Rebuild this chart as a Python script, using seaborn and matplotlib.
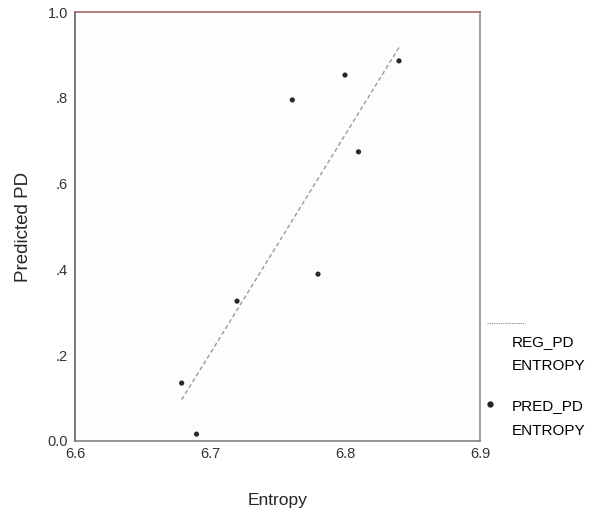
import numpy as np
import pandas as pd
import matplotlib
matplotlib.use("Agg")
import matplotlib.pyplot as plt
from matplotlib.lines import Line2D
import seaborn as sns

# values
entropy = [6.679, 6.690, 6.720, 6.761, 6.780, 6.800, 6.810, 6.840]
pred_pd = [0.135, 0.016, 0.326, 0.795, 0.389, 0.853, 0.674, 0.886]
x_ticks = [6.6, 6.7, 6.8, 6.9]
x_labels = ["6.6", "6.7", "6.8", "6.9"]
y_ticks = [0.0, 0.2, 0.4, 0.6, 0.8, 1.0]
y_labels = ["0.0", ".2", ".4", ".6", ".8", "1.0"]

df = pd.DataFrame({"entropy": entropy, "pred_pd": pred_pd})

sns.set_style("white")
plt.rcParams["font.family"] = ["Liberation Sans", "DejaVu Sans"]

fig = plt.figure(figsize=(5.92, 5.15), dpi=100)
ax = fig.add_axes([75 / 592, 74 / 515, 405 / 592, 429 / 515])
ax.set_facecolor("#fdfdfd")

# regression line (fit from the points)
sns.regplot(x="entropy", y="pred_pd", data=df, scatter=False, ci=None,
            truncate=True, ax=ax,
            line_kws=dict(color="#9a9a9a", lw=1.0, ls=(0, (3, 2))))
sns.scatterplot(x="entropy", y="pred_pd", data=df, ax=ax, s=14,
                color="#2a2a2a", edgecolor="none", zorder=3)

ax.set_xlim(6.6, 6.9)
ax.set_ylim(0, 1.0)
ax.set_xticks(x_ticks)
ax.set_xticklabels(x_labels)
ax.set_yticks(y_ticks)
ax.set_yticklabels(y_labels)
ax.tick_params(axis="both", labelsize=10.5, labelcolor="#333333",
               length=3, width=0.8, color="#666666", direction="out")
ax.tick_params(axis="x", pad=1)
ax.tick_params(axis="y", pad=2)

ax.set_xlabel("Entropy", fontsize=12.5)
ax.set_ylabel("Predicted PD", fontsize=13.5)
ax.xaxis.set_label_coords(0.5, -0.121)
ax.yaxis.set_label_coords(-0.105, 0.5)

for side, col in [("left", "#555555"), ("bottom", "#777777"),
                  ("right", "#888888"), ("top", "#a05a5a")]:
    ax.spines[side].set_visible(True)
    ax.spines[side].set_color(col)
    ax.spines[side].set_linewidth(1.1)

# legend drawn beside the plot
fig.add_artist(Line2D([487 / 592, 525 / 592], [1 - 323 / 515, 1 - 323 / 515],
                      color="#888888", lw=0.8, ls=(0, (1, 1))))
leg_kw = dict(fontsize=11, va="center", color="black")
fig.text(512 / 592, 1 - 342 / 515, "REG_PD", **leg_kw)
fig.text(512 / 592, 1 - 366 / 515, "ENTROPY", **leg_kw)
fig.add_artist(Line2D([490 / 592], [1 - 404 / 515], marker="o", ms=3.5,
                      color="#222222", ls="none"))
fig.text(512 / 592, 1 - 406 / 515, "PRED_PD", **leg_kw)
fig.text(512 / 592, 1 - 431 / 515, "ENTROPY", **leg_kw)

fig.savefig("out.png", dpi=100)
